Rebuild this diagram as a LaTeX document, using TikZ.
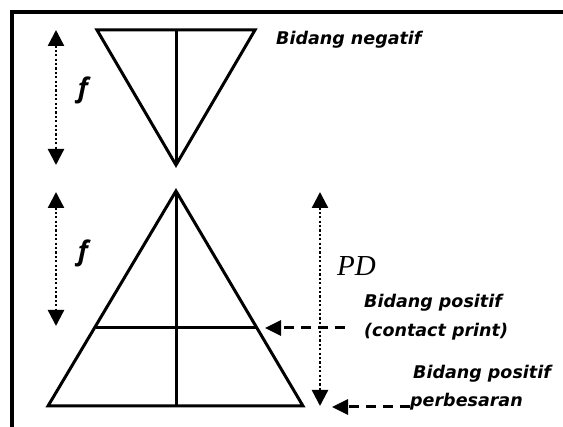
\documentclass[tikz,border=0pt]{standalone}
\usepackage{fontspec}
\setsansfont{DejaVu Sans}
\usetikzlibrary{arrows.meta}
\newfontfamily\flblfont{Open Sans}
\newfontfamily\pdfont{Liberation Serif}
\begin{document}
\begin{tikzpicture}[x=1pt,y=-1pt,
  shape line/.style={line width=3pt, line join=miter},
  frame line/.style={line width=3.3pt},
  dim arrow/.style={line width=2.4pt, dash pattern=on 2.2pt off 2.2pt, {Triangle[width=16pt,length=16pt]}-{Triangle[width=16pt,length=16pt]}},
  point arrow/.style={line width=3pt, dash pattern=on 10pt off 7pt, -{Triangle[width=15pt,length=16pt]}},
  lbl/.style={font=\sffamily\bfseries\itshape\fontsize{17.5}{19}\selectfont, inner sep=0pt, anchor=base west},
  flbl/.style={font=\flblfont\bfseries\itshape\fontsize{27}{29}\selectfont, inner sep=0pt},
]
\useasboundingbox (0,0) rectangle (563,427);
% frame
\draw[frame line] (12,427) -- (12,12) -- (563,12);
% top triangle
\coordinate (tl) at (97,30);
\coordinate (tr) at (255,30);
\coordinate (tm) at (176,30);
\coordinate (ta) at (176,165);
\draw[shape line] (tl) -- (tr) -- (ta) -- cycle;
\draw[shape line] (tm) -- (ta);
% bottom triangle
\coordinate (ba) at (176,191);
\coordinate (bl) at (48,406);
\coordinate (br) at (303,406);
\coordinate (bm) at (176,406);
\coordinate (hl) at (96,328);
\coordinate (hr) at (256,328);
\draw[shape line] (ba) -- (bl) -- (br) -- cycle;
\draw[shape line] (ba) -- (bm);
\draw[shape line] (hl) -- (hr);
% f arrows
\coordinate (f1t) at (56,30);
\coordinate (f1b) at (56,165);
\draw[dim arrow] (f1t) -- (f1b);
\node[flbl] (f1) at (83,90) {f};
\coordinate (f2t) at (56,192);
\coordinate (f2b) at (56,326);
\draw[dim arrow] (f2t) -- (f2b);
\node[flbl] (f2) at (83,253) {f};
% PD arrow
\coordinate (pdt) at (320,192);
\coordinate (pdb) at (320,406);
\draw[dim arrow] (pdt) -- (pdb);
\node[font=\pdfont\itshape\fontsize{29}{31}\selectfont, inner sep=0pt, anchor=base west] (pd) at (337,276) {PD};
% labels
\node[lbl] (neg) at (276,44.5) {Bidang negatif};
\node[lbl] (cp1) at (364,307.5) {Bidang positif};
\node[lbl] (cp2) at (364,337) {(contact print)};
\node[lbl] (pb1) at (413,378.5) {Bidang positif};
\node[lbl] (pb2) at (410,407) {perbesaran};
% pointer arrows
\coordinate (a1s) at (345,328);
\coordinate (a1e) at (265,328);
\draw[point arrow] (a1s) -- (a1e);
\coordinate (a2s) at (410,407);
\coordinate (a2e) at (332,407);
\draw[point arrow] (a2s) -- (a2e);
\end{tikzpicture}
\end{document}
